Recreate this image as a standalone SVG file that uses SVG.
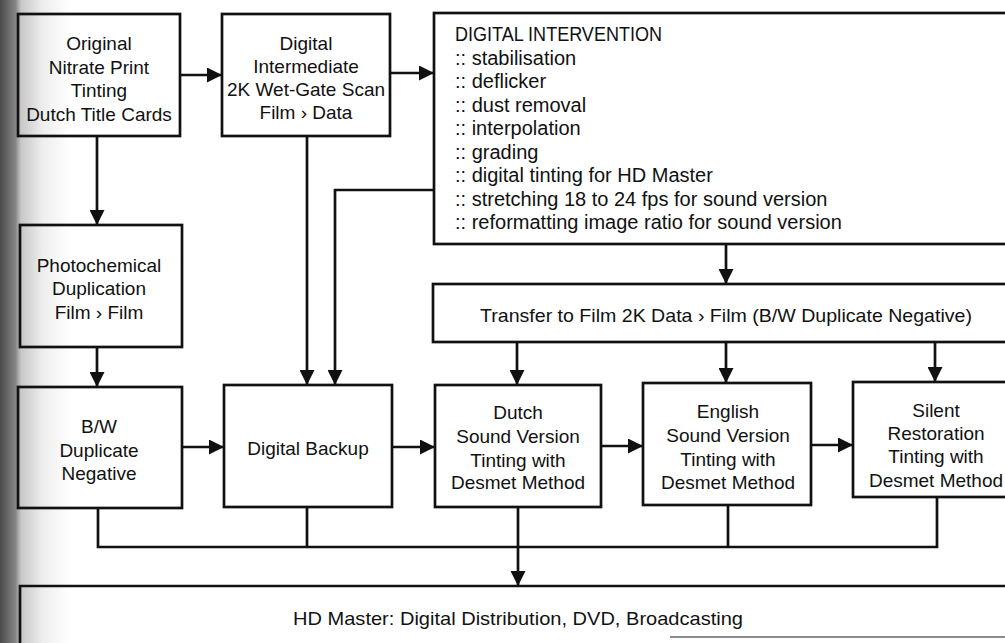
<svg xmlns="http://www.w3.org/2000/svg" width="1005" height="643" viewBox="0 0 1005 643">
<style>
.box{fill:none;stroke:#111;stroke-width:2.7}
.lbl{font-family:"Liberation Sans",Arial,sans-serif;font-size:19px;fill:#111;text-anchor:middle}
.lst{font-family:"Liberation Sans",Arial,sans-serif;font-size:20px;fill:#111}
.con{fill:none;stroke:#111;stroke-width:2.7}
</style>
<defs>
<linearGradient id="gut" x1="0" y1="0" x2="1" y2="0">
<stop offset="0" stop-color="#4a4a4a"/>
<stop offset="0.22" stop-color="#858585"/>
<stop offset="0.3" stop-color="#c8c8c8"/>
<stop offset="0.6" stop-color="#ededed"/>
<stop offset="1" stop-color="#fff"/>
</linearGradient>
<marker id="ah" viewBox="0 0 10 10" refX="10" refY="5" markerWidth="19" markerHeight="15" markerUnits="userSpaceOnUse" orient="auto">
<path d="M0,0 L10,5 L0,10 z" fill="#111"/>
</marker>
</defs>
<rect x="0" y="0" width="1005" height="643" fill="#fff"/>
<rect x="0" y="0" width="70" height="643" fill="url(#gut)"/>

<g id="connectors">
<path class="con" d="M180,75 H222" marker-end="url(#ah)"/>
<path class="con" d="M390,73 H434" marker-end="url(#ah)"/>
<path class="con" d="M97,136 V225" marker-end="url(#ah)"/>
<path class="con" d="M97,347 V387" marker-end="url(#ah)"/>
<path class="con" d="M307,136 V385" marker-end="url(#ah)"/>
<path class="con" d="M434,190 H335 V385" marker-end="url(#ah)"/>
<path class="con" d="M726,244 V284" marker-end="url(#ah)"/>
<path class="con" d="M517,342 V385" marker-end="url(#ah)"/>
<path class="con" d="M726,342 V383" marker-end="url(#ah)"/>
<path class="con" d="M935,342 V382" marker-end="url(#ah)"/>
<path class="con" d="M182,447 H224" marker-end="url(#ah)"/>
<path class="con" d="M392,447 H435" marker-end="url(#ah)"/>
<path class="con" d="M601,446 H643" marker-end="url(#ah)"/>
<path class="con" d="M811,445 H853" marker-end="url(#ah)"/>
<path class="con" d="M98,508 V547 H937 V497"/>
<path class="con" d="M307,507 V547"/>
<path class="con" d="M728,505 V547"/>
<path class="con" d="M518,507 V586" marker-end="url(#ah)"/>
</g>

<g id="n-original">
<rect class="box" x="18" y="14" width="162" height="122"/>
<text class="lbl" x="99" y="50">Original</text>
<text class="lbl" x="99" y="74">Nitrate Print</text>
<text class="lbl" x="99" y="97">Tinting</text>
<text class="lbl" x="99" y="121">Dutch Title Cards</text>
</g>

<g id="n-intermediate">
<rect class="box" x="222" y="14" width="168" height="122"/>
<text class="lbl" x="306" y="50">Digital</text>
<text class="lbl" x="306" y="73">Intermediate</text>
<text class="lbl" x="306" y="96">2K Wet-Gate Scan</text>
<text class="lbl" x="306" y="119">Film › Data</text>
</g>

<g id="n-intervention">
<rect class="box" x="434" y="13" width="600" height="231"/>
<text class="lst" x="455" y="41" textLength="207" lengthAdjust="spacingAndGlyphs">DIGITAL INTERVENTION</text>
<text class="lst" x="455" y="64.5">:: stabilisation</text>
<text class="lst" x="455" y="88">:: deflicker</text>
<text class="lst" x="455" y="111.5">:: dust removal</text>
<text class="lst" x="455" y="135">:: interpolation</text>
<text class="lst" x="455" y="158.5">:: grading</text>
<text class="lst" x="455" y="182">:: digital tinting for HD Master</text>
<text class="lst" x="455" y="205.5">:: stretching 18 to 24 fps for sound version</text>
<text class="lst" x="455" y="229">:: reformatting image ratio for sound version</text>
</g>

<g id="n-photochemical">
<rect class="box" x="20" y="225" width="162" height="122"/>
<text class="lbl" x="99" y="272">Photochemical</text>
<text class="lbl" x="99" y="295">Duplication</text>
<text class="lbl" x="99" y="319">Film › Film</text>
</g>

<g id="n-transfer">
<rect class="box" x="433" y="284" width="600" height="58"/>
<text class="lbl" x="726" y="322" textLength="492" lengthAdjust="spacingAndGlyphs">Transfer to Film 2K Data › Film (B/W Duplicate Negative)</text>
</g>

<g id="n-bw">
<rect class="box" x="18" y="387" width="164" height="121"/>
<text class="lbl" x="99" y="433">B/W</text>
<text class="lbl" x="99" y="457">Duplicate</text>
<text class="lbl" x="99" y="480">Negative</text>
</g>

<g id="n-backup">
<rect class="box" x="224" y="385" width="168" height="122"/>
<text class="lbl" x="308" y="455">Digital Backup</text>
</g>

<g id="n-dutch">
<rect class="box" x="435" y="385" width="166" height="122"/>
<text class="lbl" x="518" y="419">Dutch</text>
<text class="lbl" x="518" y="443">Sound Version</text>
<text class="lbl" x="518" y="467">Tinting with</text>
<text class="lbl" x="518" y="489">Desmet Method</text>
</g>

<g id="n-english">
<rect class="box" x="643" y="383" width="168" height="122"/>
<text class="lbl" x="728" y="418">English</text>
<text class="lbl" x="728" y="442">Sound Version</text>
<text class="lbl" x="728" y="466">Tinting with</text>
<text class="lbl" x="728" y="489">Desmet Method</text>
</g>

<g id="n-silent">
<rect class="box" x="853" y="382" width="200" height="115"/>
<text class="lbl" x="936" y="417">Silent</text>
<text class="lbl" x="936" y="440">Restoration</text>
<text class="lbl" x="936" y="463">Tinting with</text>
<text class="lbl" x="936" y="487">Desmet Method</text>
</g>

<g id="n-hdmaster">
<path class="box" d="M20,660 V586 H1010"/>
<path d="M670,637 H1010" fill="none" stroke="#666" stroke-width="1.5"/>
<text class="lbl" x="518" y="625" textLength="450" lengthAdjust="spacingAndGlyphs">HD Master: Digital Distribution, DVD, Broadcasting</text>
</g>
</svg>
